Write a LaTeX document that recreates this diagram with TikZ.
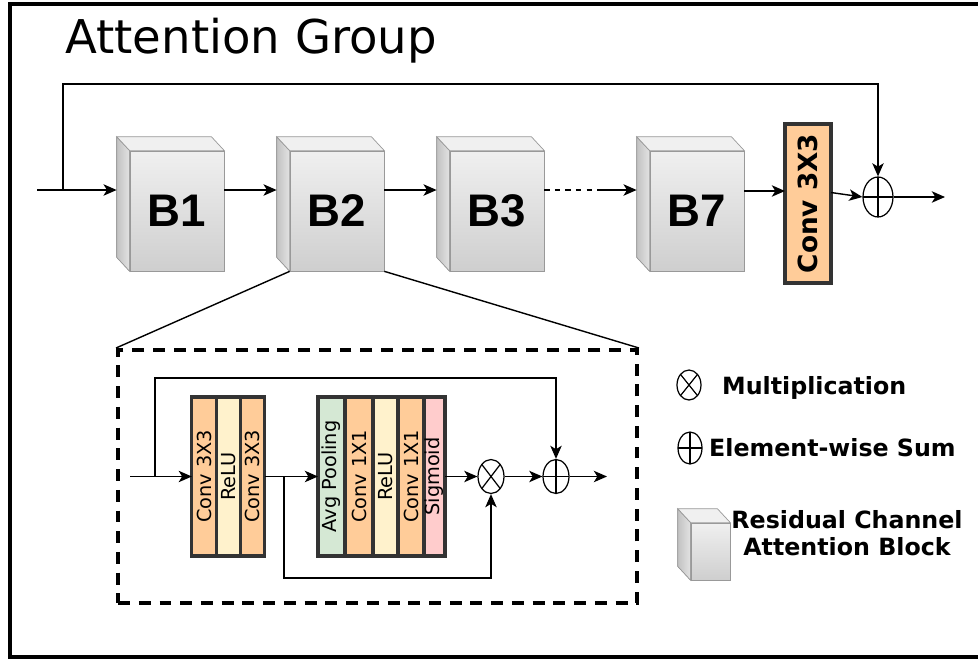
\documentclass[tikz,border=0pt]{standalone}
\usepackage{fontspec}
\setmainfont{DejaVu Sans}
\newfontfamily\blockfont{Liberation Sans}
\usepackage{graphicx}
\usetikzlibrary{arrows.meta,positioning,shapes.geometric,calc}

\definecolor{convfill}{HTML}{FFCC99}
\definecolor{relufill}{HTML}{FFF2CC}
\definecolor{poolfill}{HTML}{D5E8D4}
\definecolor{sigfill}{HTML}{FFCCCC}
\definecolor{layerline}{HTML}{333333}

\tikzset{
  arr/.style={-{Stealth[length=7.5pt,width=6.5pt,inset=2pt]}, line width=0.8pt},
  rcab/.style={rectangle, draw=gray!80, top color=gray!12, bottom color=gray!38,
    minimum width=1.88cm, minimum height=2.4cm, inner sep=0pt,
    font=\blockfont\bfseries\fontsize{26}{30}\selectfont},
  layer/.style={rectangle, draw=layerline, line width=1.8pt, minimum height=3.18cm,
    inner sep=0pt, outer sep=0pt, font=\fontsize{11}{13}\selectfont},
  sumop/.style={ellipse, draw, line width=0.7pt, inner sep=0pt,
    minimum width=0.52cm, minimum height=0.68cm,
    path picture={\draw[line width=0.7pt]
      (path picture bounding box.north) -- (path picture bounding box.south)
      (path picture bounding box.west) -- (path picture bounding box.east);}},
  mulop/.style={ellipse, draw, line width=0.7pt, inner sep=0pt,
    minimum width=0.52cm, minimum height=0.68cm,
    path picture={\draw[line width=0.7pt]
      ($(path picture bounding box.center)!0.707!(path picture bounding box.north east)$) --
      ($(path picture bounding box.center)!0.707!(path picture bounding box.south west)$)
      ($(path picture bounding box.center)!0.707!(path picture bounding box.north west)$) --
      ($(path picture bounding box.center)!0.707!(path picture bounding box.south east)$);}},
  legend/.style={font=\bfseries\fontsize{13.5}{15.5}\selectfont},
}

\begin{document}
\begin{tikzpicture}[x=0.02cm, y=0.02cm]
\useasboundingbox (0,0) rectangle (978,-660);
% frame, open on the right
\draw[line width=2.3pt] (978,-4) -- (10,-4) -- (10,-657) -- (978,-657);
\node[anchor=base west, inner sep=0pt, font=\fontsize{26.5}{30}\selectfont] (title) at (65,-53) {Attention Group};

% residual channel attention blocks
\node[rcab] (b1) at (177,-211) {B1};
\node[rcab] (b2) at (337,-211) {B2};
\node[rcab] (b3) at (497,-211) {B3};
\node[rcab] (b7) at (697,-211) {B7};
\node[rcab, minimum width=0.78cm, minimum height=1.14cm] (lgcube) at (710.5,-551.5) {};
\foreach \b in {b1,b2,b3,b7,lgcube}{
  \filldraw[draw=gray!80, left color=gray!48, right color=gray!22]
    (\b.north west) -- ++(-13,14) -- ([shift={(-13,14)}]\b.south west) -- (\b.south west) -- cycle;
  \filldraw[draw=gray!80, fill=gray!12]
    (\b.north west) -- ++(-13,14) -- ([shift={(-13,14)}]\b.north east) -- (\b.north east) -- cycle;
}

\node[layer, fill=convfill, minimum width=0.92cm, line width=2.2pt,
  font=\bfseries\fontsize{15}{18}\selectfont] (conv) at (808,-203.5) {\rotatebox{90}{Conv 3X3}};
\node[sumop, minimum width=0.6cm, minimum height=0.8cm] (sum) at (878,-197) {};

% main path
\coordinate (input) at (37,-190);
\coordinate (split) at (63,-190);
\coordinate (gap) at (600,-190);
\coordinate (output) at (945,-197);
\draw[arr] (input) -- ([shift={(-13,21)}]b1.west);
\draw[arr] ([shift={(0,21)}]b1.east) -- ([shift={(-13,21)}]b2.west);
\draw[arr] ([shift={(0,21)}]b2.east) -- ([shift={(-13,21)}]b3.west);
\draw[dashed, line width=0.8pt] ([shift={(0,21)}]b3.east) -- (gap);
\draw[arr] (gap) -- ([shift={(-13,21)}]b7.west);
\draw[arr] ([shift={(0,20)}]b7.east) -- ([shift={(0,12.5)}]conv.west);
\draw[arr] ([shift={(0,11)}]conv.east) -- (sum.west);
\draw[arr] (sum.east) -- (output);
\draw[arr] (split) -- ++(0,106) -| (sum.north);

% inside of B2
\node[draw, line width=2.3pt, dash pattern=on 6.8pt off 5pt,
  minimum width=10.38cm, minimum height=5.06cm] (zoom) at (377.5,-476.5) {};
\draw[line width=0.8pt] (b2.south west) -- (zoom.north west);
\draw[line width=0.8pt] (b2.south east) -- (zoom.north east);

\node[layer, fill=convfill, minimum width=0.487cm] (c1) at (204,-476.5) {\rotatebox{90}{Conv 3X3}};
\node[layer, fill=relufill, minimum width=0.487cm, right=0pt of c1] (r1) {\rotatebox{90}{ReLU}};
\node[layer, fill=convfill, minimum width=0.487cm, right=0pt of r1] (c2) {\rotatebox{90}{Conv 3X3}};

\node[layer, fill=poolfill, minimum width=0.54cm] (pool) at (331.5,-476.5) {\rotatebox{90}{Avg Pooling}};
\node[layer, fill=convfill, minimum width=0.56cm, right=0pt of pool] (c3) {\rotatebox{90}{Conv 1X1}};
\node[layer, fill=relufill, minimum width=0.5cm, right=0pt of c3] (r2) {\rotatebox{90}{ReLU}};
\node[layer, fill=convfill, minimum width=0.52cm, right=0pt of r2] (c4) {\rotatebox{90}{Conv 1X1}};
\node[layer, fill=sigfill, minimum width=0.42cm, right=0pt of c4] (sig) {\rotatebox{90}{Sigmoid}};

\node[mulop] (mul) at (491,-476.5) {};
\node[sumop] (add) at (556,-476.5) {};

\coordinate (rin) at (130,-476.5);
\coordinate (rsplit) at (155,-476.5);
\coordinate (fsplit) at (284,-476.5);
\coordinate (rout) at (607,-476.5);
\draw[arr] (rin) -- (c1.west);
\draw[arr] (rsplit) -- ++(0,98.5) -| (add.north);
\draw[arr] (c2.east) -- (pool.west);
\draw[arr] (fsplit) -- ++(0,-101.5) -| (mul.south);
\draw[arr] (sig.east) -- (mul.west);
\draw[arr] (mul.east) -- (add.west);
\draw[arr] (add.east) -- (rout);

% legend
\node[mulop, minimum width=0.48cm, minimum height=0.6cm] (lgmul) at (689,-385) {};
\node[legend, anchor=west] (lgmultxt) at (716,-388) {Multiplication};
\node[sumop, minimum width=0.48cm, minimum height=0.64cm] (lgsum) at (690,-448) {};
\node[legend, anchor=west] (lgsumtxt) at (703,-448) {Element-wise Sum};
\node[legend, align=center] (lgcubetxt) at (847,-533) {Residual Channel\\Attention Block};
\end{tikzpicture}
\end{document}
